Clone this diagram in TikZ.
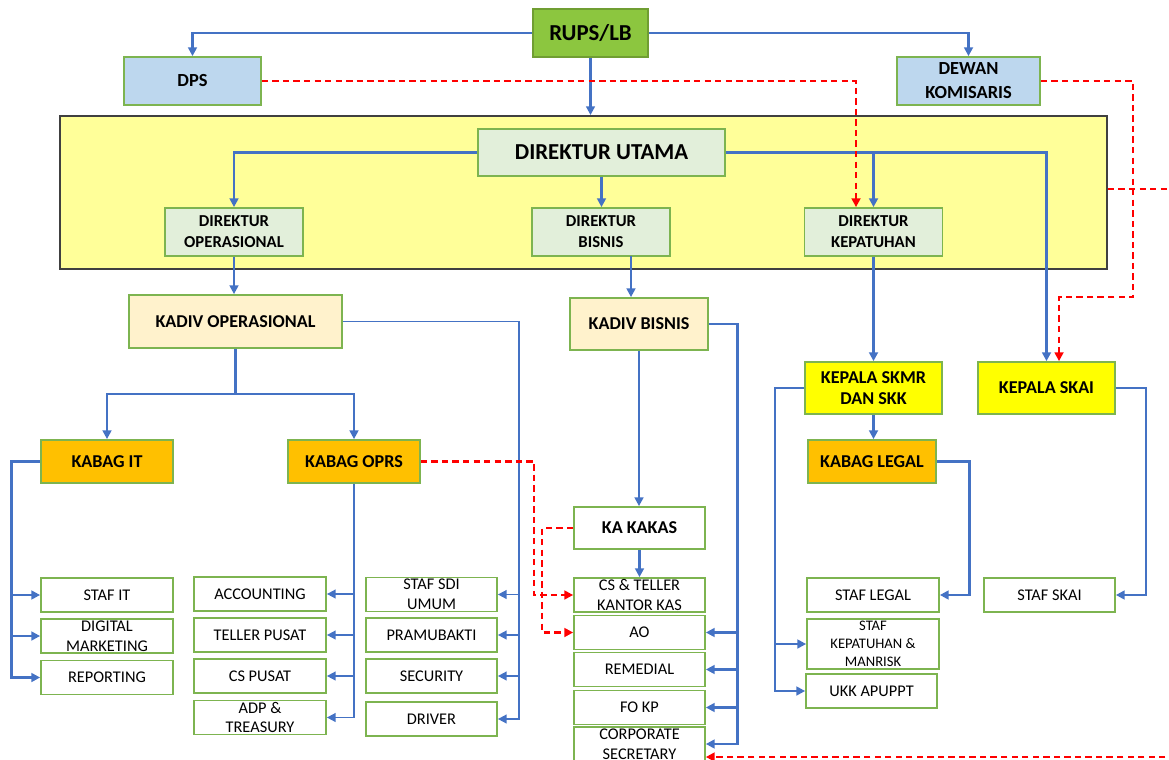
\documentclass[tikz,border=0pt]{standalone}
\usepackage{fontspec}
\setmainfont{Carlito}
\usetikzlibrary{arrows.meta,calc}
\definecolor{lineblue}{HTML}{4472C4}
\definecolor{boxgreen}{HTML}{7DB450}
\definecolor{rupsgreen}{HTML}{8CC63F}
\definecolor{paleblue}{HTML}{BDD7EE}
\definecolor{boardyellow}{HTML}{FFFF99}
\definecolor{dirgreen}{HTML}{E2EFDA}
\definecolor{kadivcream}{HTML}{FFF2CC}
\definecolor{kabagorange}{HTML}{FFC000}
\definecolor{kepalayellow}{HTML}{FFFF00}
\begin{document}
\begin{tikzpicture}[x=0.02cm,y=-0.02cm,
  box/.style={draw=boxgreen,line width=1pt,align=center,inner sep=0pt,text=black,
    font=\bfseries\fontsize{10.3}{12}\selectfont},
  dir/.style={box,fill=dirgreen,minimum width=2.76cm,minimum height=0.96cm,
    font=\bfseries\fontsize{9.5}{12}\selectfont},
  kabag/.style={box,fill=kabagorange,minimum width=2.64cm,minimum height=0.86cm},
  kepala/.style={box,fill=kepalayellow,minimum width=2.74cm,minimum height=1.04cm},
  staff/.style={box,fill=white,minimum width=2.64cm,minimum height=0.68cm,
    font=\fontsize{9.3}{11.3}\selectfont},
  link/.style={draw=lineblue,line width=1.3pt},
  conn/.style={link,-{Triangle[length=5pt,width=5pt]}},
  thin/.style={line width=0.95pt},
  redconn/.style={draw=red,line width=1.3pt,dash pattern=on 3.6pt off 2.4pt,
    -{Triangle[length=5pt,width=5pt]}}]
\useasboundingbox (0,0) rectangle (1169,760);
\clip (0,0) rectangle (1169,760);

\node[draw=black!75,line width=1.1pt,fill=boardyellow,minimum width=20.94cm,minimum height=3.06cm] (board) at (583.5,192.5) {};

\node[box,fill=rupsgreen,draw=rupsgreen!80!black,minimum width=2.3cm,minimum height=0.96cm,font=\bfseries\fontsize{13}{15}\selectfont] (rups) at (590.5,33) {RUPS/LB};
\node[box,fill=paleblue,minimum width=2.74cm,minimum height=0.96cm,font=\bfseries\fontsize{10.5}{13.6}\selectfont] (dps) at (192.5,81) {DPS};
\node[box,fill=paleblue,minimum width=2.86cm,minimum height=0.96cm,font=\bfseries\fontsize{10.5}{13.6}\selectfont] (dk) at (968.5,81) {DEWAN\\KOMISARIS};

\node[box,fill=dirgreen,minimum width=4.94cm,minimum height=0.94cm,font=\bfseries\fontsize{13}{15}\selectfont] (du) at (601.5,152.5) {DIREKTUR UTAMA};
\node[dir] (dirop) at (234,232) {DIREKTUR\\OPERASIONAL};
\node[dir] (dirbis) at (601,232) {DIREKTUR\\BISNIS};
\node[dir] (dirkep) at (873.5,232) {DIREKTUR\\KEPATUHAN};

\node[box,fill=kadivcream,minimum width=4.26cm,minimum height=1.06cm] (kadivop) at (235.5,321.5) {KADIV OPERASIONAL};
\node[box,fill=kadivcream,minimum width=2.76cm,minimum height=1.04cm] (kadivbis) at (639,324) {KADIV BISNIS};
\node[kepala] (skmr) at (873.5,388) {KEPALA SKMR\\DAN SKK};
\node[kepala] (skai) at (1046.5,388) {KEPALA SKAI};

\node[kabag] (kabagit) at (107,461.5) {KABAG IT};
\node[kabag] (kabagoprs) at (354,461.5) {KABAG OPRS};
\node[kabag,minimum width=2.56cm] (kabaglegal) at (872,461.5) {KABAG LEGAL};
\node[box,fill=white,minimum width=2.62cm,minimum height=0.84cm] (kakas) at (639.5,528) {KA KAKAS};

\node[staff] (stafit) at (107,595) {STAF IT};
\node[staff] (digital) at (107,636) {DIGITAL\\MARKETING};
\node[staff] (reporting) at (107,677.5) {REPORTING};

\node[staff] (accounting) at (260,594) {ACCOUNTING};
\node[staff] (teller) at (260,635) {TELLER PUSAT};
\node[staff] (cspusat) at (260,676) {CS PUSAT};
\node[staff] (adp) at (260,717.5) {ADP \&\\TREASURY};

\node[staff,minimum width=2.62cm] (sdi) at (431.5,594.5) {STAF SDI\\UMUM};
\node[staff,minimum width=2.62cm] (pram) at (431.5,635) {PRAMUBAKTI};
\node[staff,minimum width=2.62cm] (security) at (431.5,676) {SECURITY};
\node[staff,minimum width=2.62cm] (driver) at (431.5,719) {DRIVER};

\node[staff,minimum width=2.62cm] (cstkk) at (639.5,595) {CS \& TELLER\\KANTOR KAS};
\node[staff,minimum width=2.62cm] (ao) at (639.5,632.5) {AO};
\node[staff,minimum width=2.62cm] (remedial) at (639.5,669.5) {REMEDIAL};
\node[staff,minimum width=2.62cm] (fokp) at (639.5,707.5) {FO KP};
\node[staff,minimum width=2.62cm] (corp) at (639.5,744) {CORPORATE\\SECRETARY};

\node[staff] (staflegal) at (873,595) {STAF LEGAL};
\node[staff,minimum height=1cm,font=\fontsize{8.3}{10.2}\selectfont] (stafkep) at (873,644) {STAF\\KEPATUHAN \&\\MANRISK};
\node[staff,minimum width=2.62cm] (ukk) at (871.5,691) {UKK APUPPT};
\node[staff,minimum width=2.62cm] (stafskai) at (1049.5,595) {STAF SKAI};

\coordinate (opsplit) at (235.5,394);
\coordinate (itrail) at (11.5,677.5);
\coordinate (oprail) at (519,719);
\coordinate (bisdrop) at (631,256);
\coordinate (bisrail) at (737.5,744);
\coordinate (skmrrail) at (775,691);
\coordinate (dkdrop) at (1133,297);

\draw[conn] (rups.west) -| (dps.north);
\draw[conn] (rups.east) -| (dk.north);
\draw[conn] (rups.south) -- (rups.south |- board.north);
\draw[conn] (du.west) -| (dirop.north);
\draw[conn] (du.south) -- (du.south |- dirbis.north);
\draw[conn] (du.east) -| (dirkep.north);
\draw[conn] (du.east) -| (skai.north);

\draw[conn] (dirop.south) -- (dirop.south |- kadivop.north);
\draw[conn] (bisdrop) -- (bisdrop |- kadivbis.north);
\draw[conn] (dirkep.south) -- (dirkep.south |- skmr.north);

\draw[link] (kadivop.south) -- (opsplit);
\draw[conn] (opsplit) -| (kabagit.north);
\draw[conn] (opsplit) -| (kabagoprs.north);
\draw[conn,thin] (kadivop.east) -| (oprail) -- (driver.east);
\foreach \n in {sdi,pram,security}
  \draw[conn,thin] (\n.east -| oprail) -- (\n.east);

\draw[conn,line width=1.6pt] (kabagit.west) -| (itrail) -- (reporting.west);
\foreach \n in {stafit,digital}
  \draw[conn,line width=1.6pt] (\n.west -| itrail) -- (\n.west);

\draw[conn,thin] (kabagoprs.south) |- (adp.east);
\foreach \n in {accounting,teller,cspusat}
  \draw[conn,thin] (\n.east -| kabagoprs.south) -- (\n.east);

\draw[conn] (kadivbis.south) -- (kadivbis.south |- kakas.north);
\draw[conn] (kakas.south) -- (kakas.south |- cstkk.north);
\draw[conn] (kadivbis.east) -| (bisrail) -- (corp.east);
\foreach \n in {ao,remedial,fokp}
  \draw[conn] (\n.east -| bisrail) -- (\n.east);

\draw[conn] (skmr.south) -- (skmr.south |- kabaglegal.north);
\draw[conn] (skmr.west) -| (skmrrail) -- (ukk.west);
\draw[conn] (stafkep.west -| skmrrail) -- (stafkep.west);
\draw[conn] (kabaglegal.east) -| ($(staflegal.east)+(29.5,0)$) -- (staflegal.east);
\draw[conn] (skai.east) -| ($(stafskai.east)+(30,0)$) -- (stafskai.east);

\draw[redconn] (dps.east) -| ($(dirkep.north)+(-17.5,0)$);
\draw[redconn] (dk.east) -| (dkdrop) -| ($(skai.north)+(12.5,0)$);
\draw[redconn] ($(board.east)+(0,-3.5)$) -- (1190,189) |- ($(corp.east)+(0,13)$);
\draw[redconn] (kabagoprs.east) -| ($(cstkk.west)+(-39,0)$) -- (cstkk.west);
\draw[redconn] (kakas.west) -| ($(ao.west)+(-31,0)$) -- (ao.west);
\end{tikzpicture}
\end{document}
